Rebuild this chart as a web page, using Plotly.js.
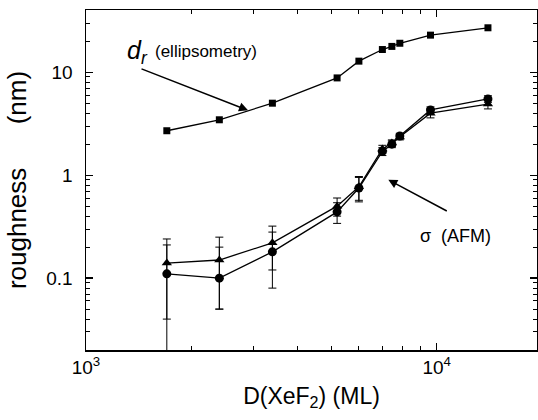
<!DOCTYPE html>
<html>
<head>
<meta charset="utf-8">
<script src="https://cdn.plot.ly/plotly-3.0.1.min.js"></script>
<style>html,body{margin:0;padding:0;background:#fff;}#chart{width:538px;height:420px;}</style>
</head>
<body>
<div id="chart"></div>
<script>
// D(XeF2) exposure in ML
const dose = [1700, 2400, 3400, 5200, 6000, 7000, 7450, 7850, 9600, 14000];
// d_r from ellipsometry (nm)
const drEllipsometry = [2.7, 3.45, 5.0, 8.8, 12.8, 16.6, 17.8, 19.1, 22.9, 27];
// sigma from AFM (nm), two series
const afmTriangle = [0.14, 0.15, 0.22, 0.50, 0.77, 1.80, 2.05, 2.35, 4.0, 4.9];
const afmTriangleErr = [0.1, 0.1, 0.1, 0.1, 0.2, 0.15, 0.15, 0.15, 0.4, 0.5];
const afmCircle = [0.11, 0.10, 0.18, 0.44, 0.75, 1.70, 2.0, 2.4, 4.3, 5.5];
const afmCircleErrPlus = [0.1, 0.1, 0.1, 0.1, 0.2, 0.15, 0.15, 0.15, 0.3, 0.4];
const afmCircleErrMinus = [0.1, 0.05, 0.1, 0.1, 0.2, 0.15, 0.15, 0.15, 0.3, 0.4];
const xTickVals = [1000, 10000];
const xTickText = ['10<sup>3</sup>', '10<sup>4</sup>'];
const yTickVals = [0.1, 1, 10];
const yTickText = ['0.1', '1', '10'];

const FONT = 'Liberation Sans, Arial, Helvetica, sans-serif';
const line = {color: '#000', width: 1.3};

function minorVals(lo, hi) {
  const v = [];
  for (let e = lo; e <= hi; e++) for (let m = 2; m <= 9; m++) v.push(m * Math.pow(10, e));
  return v;
}

const traces = [
  {x: dose, y: drEllipsometry, mode: 'lines+markers', type: 'scatter',
   line: line, marker: {symbol: 'square', size: 7, color: '#000'}},
  {x: dose, y: afmTriangle, mode: 'lines+markers', type: 'scatter',
   line: line, marker: {symbol: 'triangle-up', size: 9, color: '#000'},
   error_y: {type: 'data', array: afmTriangleErr, visible: true, color: '#000', thickness: 1, width: 4}},
  {x: dose, y: afmCircle, mode: 'lines+markers', type: 'scatter',
   line: line, marker: {symbol: 'circle', size: 9, color: '#000'},
   error_y: {type: 'data', symmetric: false, array: afmCircleErrPlus, arrayminus: afmCircleErrMinus,
             visible: true, color: '#000', thickness: 1, width: 4}}
];

const layout = {
  width: 538, height: 420,
  margin: {l: 86, r: 1, t: 10, b: 70},
  paper_bgcolor: '#fff', plot_bgcolor: '#fff',
  showlegend: false,
  font: {family: FONT, color: '#000'},
  xaxis: {
    type: 'log', range: [3, 4.286],
    tickmode: 'array', tickvals: xTickVals, ticktext: xTickText,
    ticks: 'inside', ticklen: 7, tickwidth: 1.3, tickcolor: '#000',
    minor: {tickvals: minorVals(3, 4), ticks: 'inside', ticklen: 4, tickwidth: 1, tickcolor: '#000'},
    showline: true, linecolor: '#000', linewidth: 1.5, mirror: 'allticks',
    showgrid: false, zeroline: false,
    tickfont: {size: 19, family: FONT},
    title: {text: 'D(XeF<sub>2</sub>) (ML)', font: {size: 23, family: FONT}, standoff: 10}
  },
  yaxis: {
    type: 'log', range: [-1.698, 1.604],
    tickmode: 'array', tickvals: yTickVals, ticktext: yTickText,
    ticks: 'inside', ticklen: 7, tickwidth: 1.3, tickcolor: '#000',
    minor: {tickvals: minorVals(-2, 1), ticks: 'inside', ticklen: 4, tickwidth: 1, tickcolor: '#000'},
    showline: true, linecolor: '#000', linewidth: 1.5, mirror: 'allticks',
    showgrid: false, zeroline: false,
    tickfont: {size: 19, family: FONT},
    ticklabelstandoff: 8,
    title: {text: 'roughness\u00a0\u00a0\u00a0\u00a0\u00a0\u00a0(nm)', font: {size: 26, family: FONT}, standoff: 12}
  },
  annotations: [
    {xref: 'paper', yref: 'paper', x: 0.0865, y: 0.876, xanchor: 'left', yanchor: 'middle',
     text: '<i>d</i><sub><i>r</i></sub>', showarrow: false, font: {size: 25, family: FONT}},
    {xref: 'paper', yref: 'paper', x: 0.1486, y: 0.879, xanchor: 'left', yanchor: 'middle',
     text: '(ellipsometry)', showarrow: false, font: {size: 17, family: FONT}},
    {xref: 'paper', yref: 'paper', x: 0.736, y: 0.336, xanchor: 'left', yanchor: 'middle',
     text: '\u03c3\u00a0\u00a0(AFM)', showarrow: false, font: {size: 18, family: FONT}},
    {xref: 'x', yref: 'y', x: 3.462, y: 0.630, ax: -108, ay: -42, text: '',
     showarrow: true, arrowhead: 2, arrowsize: 1.2, arrowwidth: 1.5, arrowcolor: '#000', standoff: 0},
    {xref: 'x', yref: 'y', x: 3.862, y: -0.045, ax: 60, ay: 32, text: '',
     showarrow: true, arrowhead: 2, arrowsize: 1.2, arrowwidth: 1.5, arrowcolor: '#000', standoff: 0}
  ]
};

Plotly.newPlot('chart', traces, layout, {displayModeBar: false, staticPlot: true});
</script>
</body>
</html>
